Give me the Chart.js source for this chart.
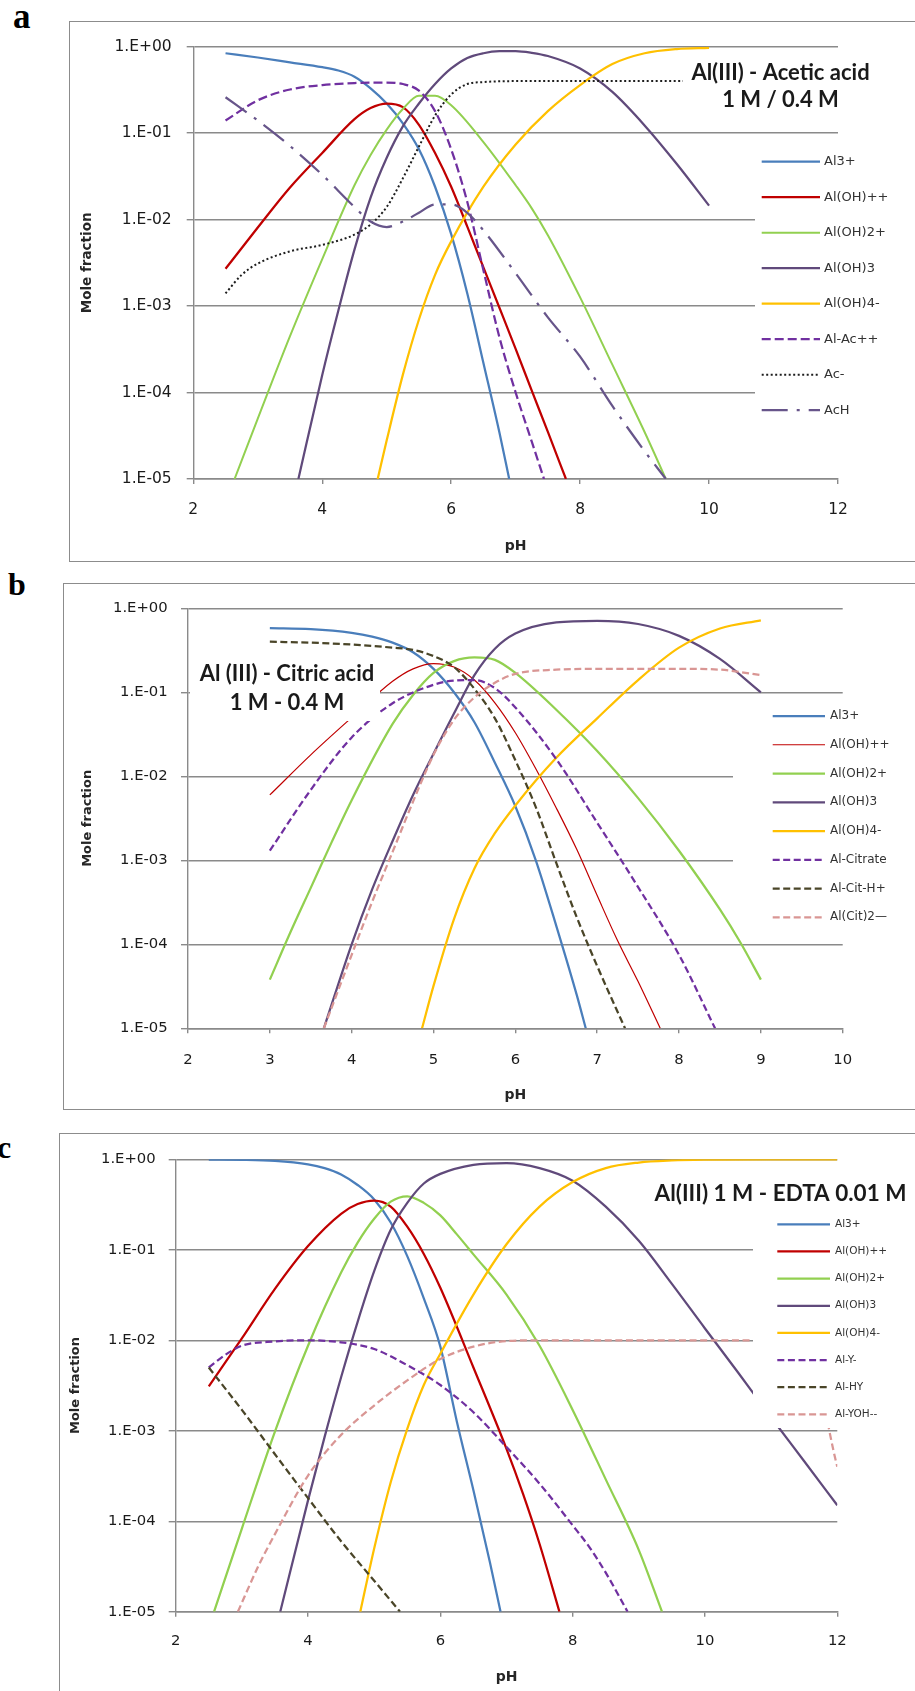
<!DOCTYPE html>
<html>
<head>
<meta charset="utf-8">
<title>Al(III) speciation vs pH</title>
<script src="https://cdn.jsdelivr.net/npm/chart.js@4.4.1/dist/chart.umd.min.js"></script>
<style>
  html, body { margin: 0; padding: 0; background: #fff; }
  body { width: 915px; height: 1691px; position: relative; overflow: hidden; }
  .frame { position: absolute; border: 1.5px solid #8c8c8c; box-sizing: border-box; }
  .tag { position: absolute; font-family: "Liberation Serif", "Times New Roman", serif; font-weight: bold; line-height: 1; color: #000; }
  canvas { position: absolute; left: 0; }
</style>
</head>
<body>
<div class="frame" style="left:69px;top:21px;width:880px;height:541px"></div>
<div class="frame" style="left:63px;top:583px;width:880px;height:527px"></div>
<div class="frame" style="left:59px;top:1133px;width:880px;height:600px"></div>
<div class="tag" style="left:13px;top:-1px;font-size:35px">a</div>
<div class="tag" style="left:8px;top:568px;font-size:32px">b</div>
<div class="tag" style="left:-3px;top:1131px;font-size:32px">c</div>
<canvas id="chartA" width="915" height="541" style="top:21px"></canvas>
<canvas id="chartB" width="915" height="526" style="top:583px"></canvas>
<canvas id="chartC" width="915" height="558" style="top:1133px"></canvas>
<script>
// ---------- shared axis ticks ----------
const yTickValues = [1e-5, 1e-4, 1e-3, 1e-2, 1e-1, 1];
const yTickLabels = ['1.E-05', '1.E-04', '1.E-03', '1.E-02', '1.E-01', '1.E+00'];
const xTicksWide = [2, 4, 6, 8, 10, 12];
const xTicksNarrow = [2, 3, 4, 5, 6, 7, 8, 9, 10];

// ---------- (a) Al(III) - acetic acid, 1 M / 0.4 M ----------
const aNames = ['Al3+', 'Al(OH)++', 'Al(OH)2+', 'Al(OH)3', 'Al(OH)4-', 'Al-Ac++', 'Ac-', 'AcH'];
const aAl3PH = [2.5, 3, 3.5, 4, 4.25, 4.5, 4.75, 5, 5.25, 5.5, 5.75, 6, 6.25, 6.5, 6.75, 6.9];
const aAl3 = [0.84, 0.75, 0.66, 0.58, 0.53, 0.45, 0.33, 0.22, 0.13, 0.065, 0.024, 0.0068, 0.0014, 2.2e-4, 3.4e-5, 1e-5];
const aAlOHPH = [2.5, 3, 3.5, 4, 4.5, 4.75, 5, 5.25, 5.5, 5.75, 6, 6.25, 6.5, 6.75, 7, 7.25, 7.5, 7.78];
const aAlOH = [0.0027, 0.0081, 0.0235, 0.059, 0.145, 0.195, 0.22, 0.2, 0.125, 0.059, 0.024, 0.0083, 0.0028, 9.5e-4, 3.2e-4, 1.05e-4, 3.5e-5, 1e-5];
const aAlOH2PH = [2.64, 3, 3.5, 4, 4.5, 4.75, 5, 5.25, 5.5, 5.75, 6, 6.5, 7, 7.25, 7.5, 8, 8.5, 9, 9.33];
const aAlOH2 = [1e-5, 5e-5, 4.5e-4, 3.5e-3, 0.025, 0.056, 0.11, 0.19, 0.27, 0.27, 0.21, 0.079, 0.025, 0.0135, 6.6e-3, 1.26e-3, 2.1e-4, 3.5e-5, 1e-5];
const aAlOH3PH = [3.63, 4, 4.25, 4.5, 4.75, 5, 5.25, 5.5, 5.75, 6, 6.25, 6.5, 6.75, 7, 7.25, 7.5, 8, 8.5, 9, 9.5, 10];
const aAlOH3 = [1e-5, 1.6e-4, 8.9e-4, 4.5e-3, 0.018, 0.052, 0.12, 0.22, 0.37, 0.56, 0.74, 0.84, 0.887, 0.89, 0.85, 0.78, 0.56, 0.3, 0.123, 0.044, 0.0145];
const aAlOH4PH = [4.86, 5, 5.25, 5.5, 5.75, 6, 6.5, 7, 7.5, 8, 8.5, 9, 9.5, 10];
const aAlOH4 = [1e-5, 2.8e-5, 1.6e-4, 7e-4, 2.3e-3, 5.6e-3, 0.024, 0.074, 0.18, 0.36, 0.63, 0.84, 0.94, 0.97];
const aAlAcPH = [2.5, 3, 3.5, 4, 4.5, 5, 5.25, 5.5, 5.75, 6, 6.25, 6.5, 6.75, 7, 7.25, 7.44];
const aAlAc = [0.14, 0.24, 0.32, 0.36, 0.38, 0.385, 0.37, 0.31, 0.18, 0.065, 0.016, 2.6e-3, 4.3e-4, 1e-4, 2.7e-5, 1e-5];
const aAcPH = [2.5, 2.75, 3, 3.5, 4, 4.5, 4.75, 5, 5.25, 5.5, 5.75, 6, 6.25, 6.5, 7, 8, 9, 10];
const aAc = [0.0014, 0.0023, 0.0031, 0.0043, 0.0051, 0.0067, 0.0088, 0.014, 0.03, 0.07, 0.16, 0.28, 0.37, 0.39, 0.4, 0.4, 0.4, 0.4];
const aAcHPH = [2.5, 3, 3.5, 4, 4.5, 4.75, 5, 5.25, 5.5, 5.75, 6, 6.25, 6.5, 7, 7.5, 8, 8.5, 9, 9.33];
const aAcH = [0.26, 0.14, 0.071, 0.033, 0.014, 0.0095, 0.0082, 0.0095, 0.012, 0.015, 0.015, 0.012, 0.0075, 0.0024, 7.4e-4, 2.6e-4, 7e-5, 2.1e-5, 1e-5];

// ---------- (b) Al(III) - citric acid, 1 M - 0.4 M ----------
const bNames = ['Al3+', 'Al(OH)++', 'Al(OH)2+', 'Al(OH)3', 'Al(OH)4-', 'Al-Citrate', 'Al-Cit-H+', 'Al(Cit)2\u2014'];
const bAl3PH = [3, 3.5, 4, 4.25, 4.5, 4.75, 5, 5.25, 5.5, 5.75, 6, 6.25, 6.5, 6.75, 6.86];
const bAl3 = [0.58, 0.565, 0.51, 0.46, 0.39, 0.3, 0.19, 0.1, 0.044, 0.0145, 0.0044, 0.001, 1.66e-4, 2.5e-5, 1e-5];
const bAlOHPH = [3, 3.5, 4, 4.5, 4.75, 5, 5.25, 5.5, 5.75, 6, 6.25, 6.5, 6.75, 7, 7.25, 7.5, 7.77];
const bAlOH = [0.006, 0.018, 0.05, 0.135, 0.19, 0.22, 0.2, 0.14, 0.075, 0.033, 0.0123, 0.0042, 0.00135, 3.8e-4, 1.1e-4, 3.6e-5, 1e-5];
const bAlOH2PH = [3, 3.25, 3.5, 3.75, 4, 4.5, 4.75, 5, 5.25, 5.5, 5.75, 6, 6.5, 7, 7.5, 8, 8.5, 8.75, 9];
const bAlOH2 = [3.8e-5, 1.38e-4, 4.7e-4, 1.6e-3, 5.2e-3, 0.042, 0.093, 0.17, 0.235, 0.26, 0.243, 0.17, 0.062, 0.02, 5.5e-3, 1.3e-3, 2.6e-4, 1.05e-4, 3.8e-5];
const bAlOH3PH = [3.66, 4, 4.25, 4.5, 4.75, 5, 5.25, 5.5, 5.75, 6, 6.5, 7, 7.5, 8, 8.5, 9];
const bAlOH3 = [1e-5, 1e-4, 4.5e-4, 1.7e-3, 6e-3, 0.0186, 0.056, 0.16, 0.33, 0.5, 0.68, 0.71, 0.65, 0.47, 0.25, 0.1];
const bAlOH4PH = [4.86, 5, 5.25, 5.5, 5.75, 6, 6.5, 7, 7.5, 8, 8.5, 9];
const bAlOH4 = [1e-5, 3.2e-5, 2e-4, 8e-4, 2.1e-3, 4.5e-3, 0.0166, 0.049, 0.14, 0.34, 0.575, 0.72];
const bCitPH = [3, 3.5, 4, 4.5, 5, 5.25, 5.5, 5.75, 6, 6.5, 7, 7.5, 8, 8.44];
const bCit = [1.3e-3, 6.9e-3, 0.029, 0.074, 0.123, 0.138, 0.14, 0.112, 0.066, 0.016, 2.8e-3, 4.8e-4, 7.5e-5, 1e-5];
const bCitHPH = [3, 3.5, 4, 4.5, 4.75, 5, 5.25, 5.5, 5.75, 6, 6.25, 6.5, 6.75, 7, 7.34];
const bCitH = [0.4, 0.39, 0.37, 0.34, 0.32, 0.27, 0.2, 0.11, 0.049, 0.0155, 4.3e-3, 9.3e-4, 2.1e-4, 5.5e-5, 1e-5];
const bCit2PH = [3.66, 4, 4.25, 4.5, 4.75, 5, 5.25, 5.5, 5.75, 6, 6.5, 7, 7.5, 8, 8.5, 9];
const bCit2 = [1e-5, 7.5e-5, 3.2e-4, 1.26e-3, 5e-3, 0.018, 0.047, 0.087, 0.13, 0.166, 0.186, 0.19, 0.19, 0.19, 0.186, 0.16];

// ---------- (c) Al(III) 1 M - EDTA 0.01 M ----------
const cNames = ['Al3+', 'Al(OH)++', 'Al(OH)2+', 'Al(OH)3', 'Al(OH)4-', 'Al-Y-', 'Al-HY', 'Al-YOH--'];
const cAl3PH = [2.5, 3, 3.5, 4, 4.25, 4.5, 4.75, 5, 5.25, 5.5, 5.75, 6, 6.25, 6.5, 6.75, 6.91];
const cAl3 = [0.99, 0.985, 0.96, 0.88, 0.8, 0.68, 0.52, 0.36, 0.2, 0.085, 0.029, 0.0085, 0.00126, 2.2e-4, 3.5e-5, 1e-5];
const cAlOHPH = [2.5, 3, 3.5, 4, 4.5, 4.75, 5, 5.25, 5.5, 5.75, 6, 6.5, 7, 7.25, 7.5, 7.8];
const cAlOH = [0.0031, 0.0105, 0.037, 0.11, 0.25, 0.32, 0.35, 0.3, 0.18, 0.09, 0.038, 0.005, 6.3e-4, 2e-4, 5.6e-5, 1e-5];
const cAlOH2PH = [2.58, 3, 3.5, 4, 4.5, 4.75, 5, 5.25, 5.5, 5.75, 6, 6.25, 6.5, 7, 7.5, 8, 8.5, 9, 9.35];
const cAlOH2 = [1e-5, 8.3e-5, 9.8e-4, 8.7e-3, 0.056, 0.12, 0.22, 0.34, 0.39, 0.33, 0.24, 0.148, 0.089, 0.032, 8.7e-3, 1.7e-3, 2.9e-4, 4.8e-5, 1e-5];
const cAlOH3PH = [3.58, 4, 4.25, 4.5, 4.75, 5, 5.25, 5.5, 5.75, 6, 6.5, 7, 7.5, 8, 8.5, 9, 9.5, 10, 10.5, 11, 11.5, 12];
const cAlOH3 = [1e-5, 1.7e-4, 8.5e-4, 3.9e-3, 0.016, 0.058, 0.166, 0.33, 0.54, 0.69, 0.87, 0.91, 0.8, 0.58, 0.3, 0.126, 0.042, 0.0135, 4.4e-3, 1.4e-3, 4.6e-4, 1.5e-4];
const cAlOH4PH = [4.79, 5, 5.25, 5.5, 5.75, 6, 6.5, 7, 7.5, 8, 8.5, 9, 9.5, 10, 11, 12];
const cAlOH4 = [1e-5, 5e-5, 2.7e-4, 1.05e-3, 3.2e-3, 7.1e-3, 0.032, 0.115, 0.3, 0.56, 0.8, 0.92, 0.97, 0.99, 1, 1];
const cAlYPH = [2.5, 2.75, 3, 3.5, 4, 4.5, 5, 5.5, 6, 6.5, 7, 7.5, 8, 8.25, 8.5, 8.83];
const cAlY = [0.005, 0.0069, 0.0087, 0.0097, 0.01, 0.0095, 0.008, 0.0053, 0.0032, 0.0016, 6.6e-4, 2.6e-4, 9e-5, 5.2e-5, 2.7e-5, 1e-5];
const cAlHYPH = [2.5, 3, 3.5, 4, 4.5, 5, 5.39];
const cAlHY = [0.005, 0.0017, 5.5e-4, 1.8e-4, 6e-5, 2.2e-5, 1e-5];
const cAlYOHPH = [2.94, 3.25, 3.5, 4, 4.5, 5, 5.5, 6, 6.5, 7, 7.5, 8, 9, 10, 11, 11.5, 12];
const cAlYOH = [1e-5, 3.2e-5, 7.2e-5, 3.2e-4, 9e-4, 1.9e-3, 3.6e-3, 6.2e-3, 8.5e-3, 9.8e-3, 0.01, 0.01, 0.01, 0.01, 0.01, 0.01, 4e-4];

// ---------- styling ----------
const TXT = '"DejaVu Sans", Verdana, sans-serif';
const NOTE = 'Lato, "Open Sans", sans-serif';
const GRID = '#8a8a8a';
const BLUE = '#4a7ebb', RED = '#c00000', GREEN = '#92d050', PLUM = '#604a7b',
      GOLD = '#ffc000', VIOLET = '#7030a0', INK = '#1e1e1e', OLIVE = '#4a4528',
      ROSE = '#d99694', MAUVE = '#67558a';

function pts(xs, ys) { return xs.map((x, i) => ({ x: x, y: ys[i] })); }

function line(label, xs, ys, color, width, dash) {
  return {
    label: label, data: pts(xs, ys),
    borderColor: color, backgroundColor: color, borderWidth: width,
    borderDash: dash || [], pointRadius: 0, pointHoverRadius: 0,
    fill: false, cubicInterpolationMode: 'monotone'
  };
}

// legend drawn over the plot on a white panel, as in the spreadsheet layout
function keyPlugin(k, top) {
  return {
    id: 'sideKey',
    afterDatasetsDraw(chart) {
      const c = chart.ctx;
      c.save();
      c.fillStyle = '#fff';
      c.fillRect(k.x, k.y - top, k.w, k.h);
      c.font = k.font;
      c.textBaseline = 'middle';
      c.textAlign = 'left';
      chart.data.datasets.forEach((ds, i) => {
        const y = k.first - top + i * k.step;
        c.beginPath();
        c.strokeStyle = ds.borderColor;
        c.lineWidth = ds.borderWidth;
        c.setLineDash(ds.borderDash);
        c.moveTo(k.x1, y);
        c.lineTo(k.x2, y);
        c.stroke();
        c.setLineDash([]);
        c.fillStyle = '#333';
        c.fillText(ds.label, k.tx, y);
      });
      c.restore();
    }
  };
}

// caption text box inside the plot area
function notePlugin(n, top) {
  return {
    id: 'caption',
    afterDatasetsDraw(chart) {
      const c = chart.ctx;
      c.save();
      if (n.box) {
        c.fillStyle = '#fff';
        c.fillRect(n.box.x, n.box.y - top, n.box.w, n.box.h);
      }
      c.font = n.font;
      c.fillStyle = '#1a1a1a';
      c.textAlign = 'center';
      c.textBaseline = 'middle';
      n.lines.forEach(l => c.fillText(l.text, n.cx, l.y - top));
      c.restore();
    }
  };
}

function build(id, p) {
  const ctx = document.getElementById(id).getContext('2d');
  p.datasets.forEach((d, i) => { d.order = -i; });
  return new Chart(ctx, {
    type: 'line',
    data: { datasets: p.datasets },
    plugins: [keyPlugin(p.key, p.top), notePlugin(p.note, p.top)],
    options: {
      responsive: false, animation: false, devicePixelRatio: 1, events: [],
      layout: { padding: p.pad },
      plugins: { legend: { display: false }, tooltip: { enabled: false }, title: { display: false } },
      scales: {
        x: {
          type: 'linear', min: p.xTicks[0], max: p.xTicks[p.xTicks.length - 1],
          afterBuildTicks: s => { s.ticks = p.xTicks.map(v => ({ value: v })); },
          afterFit: s => { s.height = p.xH; },
          grid: { drawOnChartArea: false, drawTicks: true, tickLength: 5, color: GRID, lineWidth: 1.4 },
          border: { display: true, color: GRID, width: 1.4 },
          ticks: { font: { family: TXT, size: p.tick }, color: '#1a1a1a', padding: p.xPad,
                   maxRotation: 0, autoSkip: false, callback: v => String(v) },
          title: { display: true, text: 'pH', color: '#262626',
                   font: { family: TXT, size: 14, weight: 'bold' }, padding: { top: 0, bottom: p.xTitlePad } }
        },
        y: {
          type: 'logarithmic', min: 1e-5, max: 1,
          afterBuildTicks: s => { s.ticks = yTickValues.map(v => ({ value: v })); },
          afterFit: s => { s.width = p.yW; },
          grid: { drawOnChartArea: true, drawTicks: true, tickLength: p.yTl, color: GRID, lineWidth: 1.4 },
          border: { display: true, color: GRID, width: 1.4 },
          ticks: { font: { family: TXT, size: p.tick }, color: '#1a1a1a', padding: p.yPad,
                   autoSkip: false, callback: (v, i) => yTickLabels[i] },
          title: { display: true, text: 'Mole fraction', color: '#262626',
                   font: { family: TXT, size: p.yTitleSize, weight: 'bold' }, padding: { top: p.yTitlePad, bottom: 0 } }
        }
      }
    }
  });
}

// ---------- panel a ----------
build('chartA', {
  top: 21,
  datasets: [
    line(aNames[0], aAl3PH, aAl3, BLUE, 2.25),
    line(aNames[1], aAlOHPH, aAlOH, RED, 2.25),
    line(aNames[2], aAlOH2PH, aAlOH2, GREEN, 2),
    line(aNames[3], aAlOH3PH, aAlOH3, PLUM, 2.25),
    line(aNames[4], aAlOH4PH, aAlOH4, GOLD, 2.25),
    line(aNames[5], aAlAcPH, aAlAc, VIOLET, 2.25, [9, 4]),
    line(aNames[6], aAcPH, aAc, INK, 2, [2, 2.5]),
    line(aNames[7], aAcHPH, aAcH, MAUVE, 2.25, [26, 9, 3, 9])
  ],
  xTicks: xTicksWide,
  pad: { left: 60, right: 77, top: 25.7, bottom: 0 },
  yW: 133.3, xH: 83, tick: 15.5, xPad: 16.7, yTl: 6.6, yPad: 15,
  xTitlePad: 7.6, yTitleSize: 13.5, yTitlePad: 19.4,
  key: { x: 755, y: 140, w: 160, h: 305, x1: 761.7, x2: 820, tx: 824, first: 161.7, step: 35.5,
         font: '13px "DejaVu Sans", sans-serif' },
  note: { cx: 780.5, font: 'bold 22px ' + NOTE, box: { x: 683, y: 58, w: 200, h: 56 },
          lines: [{ text: 'Al(III) - Acetic acid', y: 73 }, { text: '1 M / 0.4 M', y: 100 }] }
});

// ---------- panel b ----------
build('chartB', {
  top: 583,
  datasets: [
    line(bNames[0], bAl3PH, bAl3, BLUE, 2.25),
    line(bNames[1], bAlOHPH, bAlOH, RED, 1.2),
    line(bNames[2], bAlOH2PH, bAlOH2, GREEN, 2.25),
    line(bNames[3], bAlOH3PH, bAlOH3, PLUM, 2.25),
    line(bNames[4], bAlOH4PH, bAlOH4, GOLD, 2.25),
    line(bNames[5], bCitPH, bCit, VIOLET, 2.25, [7, 3.5]),
    line(bNames[6], bCitHPH, bCitH, OLIVE, 2.25, [7, 3.5]),
    line(bNames[7], bCit2PH, bCit2, ROSE, 2.25, [7, 3.5])
  ],
  xTicks: xTicksNarrow,
  pad: { left: 60, right: 72.3, top: 25.3, bottom: 0 },
  yW: 128, xH: 80.7, tick: 14.8, xPad: 17.8, yTl: 7, yPad: 13.3,
  xTitlePad: 4.9, yTitleSize: 13, yTitlePad: 19.7,
  key: { x: 733, y: 702, w: 182, h: 222, x1: 772.7, x2: 825, tx: 830, first: 716, step: 28.75,
         font: '12px "DejaVu Sans", sans-serif' },
  note: { cx: 287, font: 'bold 22px ' + NOTE, box: { x: 190, y: 652, w: 190, h: 69 },
          lines: [{ text: 'Al (III) - Citric acid', y: 674 }, { text: '1 M - 0.4 M', y: 703 }] }
});

// ---------- panel c ----------
build('chartC', {
  top: 1133,
  datasets: [
    line(cNames[0], cAl3PH, cAl3, BLUE, 2.25),
    line(cNames[1], cAlOHPH, cAlOH, RED, 2.25),
    line(cNames[2], cAlOH2PH, cAlOH2, GREEN, 2.25),
    line(cNames[3], cAlOH3PH, cAlOH3, PLUM, 2.25),
    line(cNames[4], cAlOH4PH, cAlOH4, GOLD, 2.25),
    line(cNames[5], cAlYPH, cAlY, VIOLET, 2.25, [7, 3.6]),
    line(cNames[6], cAlHYPH, cAlHY, OLIVE, 2.25, [7, 3.6]),
    line(cNames[7], cAlYOHPH, cAlYOH, ROSE, 2.25, [7, 3.6])
  ],
  xTicks: xTicksWide,
  pad: { left: 55, right: 77.7, top: 26.3, bottom: 0 },
  yW: 120.7, xH: 79.3, tick: 14.8, xPad: 15.4, yTl: 7, yPad: 13,
  xTitlePad: 5.6, yTitleSize: 13, yTitlePad: 13.1,
  key: { x: 753, y: 1210, w: 162, h: 218, x1: 777.3, x2: 830, tx: 835, first: 1224.3, step: 27.15,
         font: '10.5px "DejaVu Sans", sans-serif' },
  note: { cx: 780.5, font: 'bold 22.5px ' + NOTE, box: null,
          lines: [{ text: 'Al(III) 1 M - EDTA 0.01 M', y: 1194 }] }
});
</script>
</body>
</html>
